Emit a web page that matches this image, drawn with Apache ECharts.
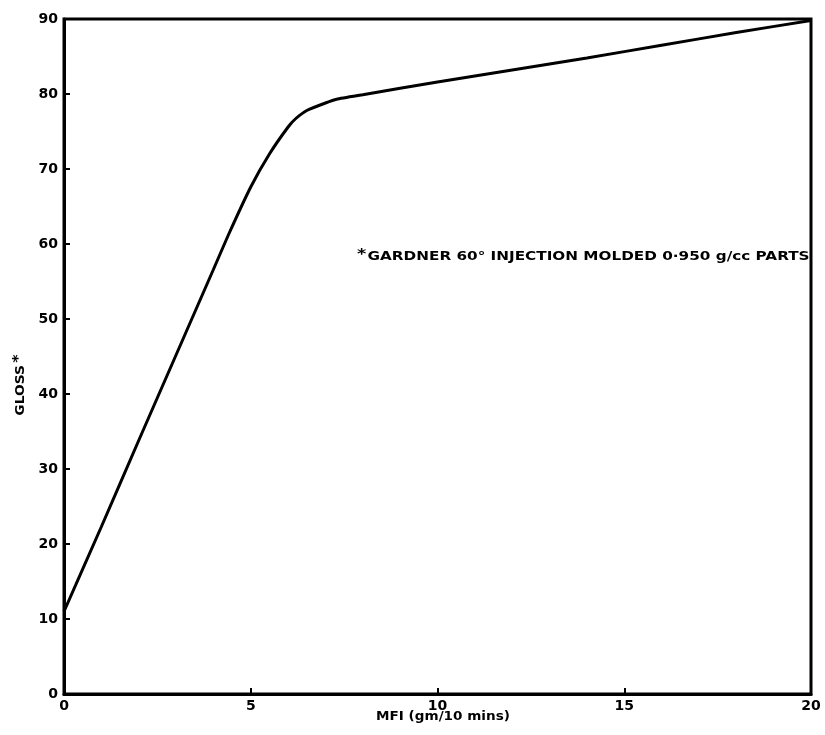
<!DOCTYPE html>
<html>
<head>
<meta charset="utf-8">
<script src="https://cdn.jsdelivr.net/npm/echarts@6/dist/echarts.min.js"></script>
<style>
  html, body { margin: 0; padding: 0; background: #fff; }
  #chart { width: 825px; height: 735px; }
</style>
</head>
<body>
<div id="chart"></div>
<script>
// Gloss vs melt flow index
const mfi   = [0, 1, 2, 3, 4, 4.4, 5, 5.5, 6, 6.2, 6.5, 7, 7.3, 8, 10, 12, 14, 16, 18, 20];
const gloss = [11, 22.3, 33.8, 45.2, 56.6, 61.2, 67.6, 72, 75.6, 76.7, 77.8, 78.8, 79.3, 79.9, 81.6, 83.2, 84.8, 86.5, 88.2, 89.8];

const xTicks = [0, 5, 10, 15, 20];
const yTicks = [0, 10, 20, 30, 40, 50, 60, 70, 80, 90];

const noteText = 'GARDNER 60° INJECTION MOLDED 0·950 g/cc PARTS';
const xName = 'MFI (gm/10 mins)';
const yName = 'GLOSS';

const FONT = '"DejaVu Sans", sans-serif';

const chart = echarts.init(document.getElementById('chart'), null, { renderer: 'canvas' });

const axisCommon = {
  axisLine: { show: true, onZero: false, lineStyle: { color: '#000', width: 3 } },
  axisTick: { show: true, inside: true, length: 6, lineStyle: { color: '#000', width: 2 } },
  splitLine: { show: false },
  axisLabel: { color: '#000', fontFamily: FONT, fontWeight: 'bold', fontSize: 14 }
};

chart.setOption({
  animation: false,
  backgroundColor: '#fff',
  grid: { left: 64, right: 14, top: 19, bottom: 41, show: true, borderColor: '#000', borderWidth: 3 },
  xAxis: Object.assign({}, axisCommon, {
    type: 'value', min: xTicks[0], max: xTicks[xTicks.length - 1], interval: 5,
    axisLabel: Object.assign({}, axisCommon.axisLabel, { margin: 5 })
  }),
  yAxis: Object.assign({}, axisCommon, {
    type: 'value', min: yTicks[0], max: yTicks[yTicks.length - 1], interval: 10,
    axisLabel: Object.assign({}, axisCommon.axisLabel, { margin: 6 })
  }),
  graphic: [
    {
      type: 'text', x: 443, y: 717, scaleX: 1.13,
      style: { text: xName, fill: '#000', font: 'bold 12px ' + FONT, textAlign: 'center', textVerticalAlign: 'middle' }
    },
    {
      type: 'text', x: 21, y: 385, rotation: Math.PI / 2, scaleX: 1.15,
      style: {
        text: '{a|' + yName + '}{s|*}',
        fill: '#000', textAlign: 'center', textVerticalAlign: 'middle',
        rich: {
          a: { font: 'bold 12px ' + FONT, fill: '#000' },
          s: { font: 'bold 14px ' + FONT, fill: '#000', padding: [0, 0, 6, 2] }
        }
      }
    },
    {
      type: 'text', x: 357, y: 257, scaleX: 1.27,
      style: {
        text: '{s|*}{a|' + noteText + '}',
        fill: '#000', textVerticalAlign: 'middle',
        rich: {
          a: { font: 'bold 12px ' + FONT, fill: '#000' },
          s: { font: 'bold 14px ' + FONT, fill: '#000', padding: [0, 1, 6, 0] }
        }
      }
    }
  ],
  series: [{
    type: 'line',
    data: mfi.map((x, i) => [x, gloss[i]]),
    showSymbol: false,
    smooth: 0.15,
    lineStyle: { color: '#000', width: 3 }
  }]
});
</script>
</body>
</html>
